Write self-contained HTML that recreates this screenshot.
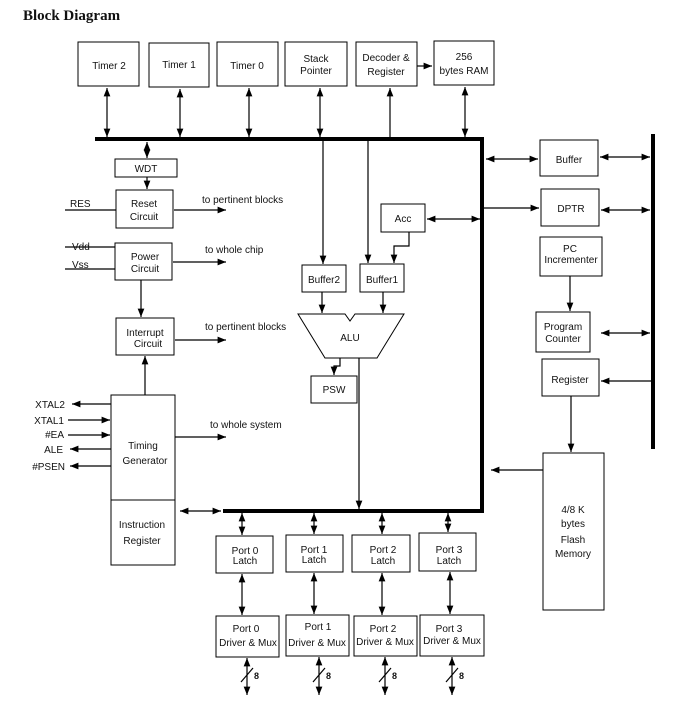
<!DOCTYPE html>
<html><head><meta charset="utf-8"><style>
body{margin:0;background:#fff}
svg{display:block}
text{font-family:"Liberation Sans",sans-serif;font-size:10px;fill:#111}
</style></head><body>
<svg width="673" height="704" viewBox="0 0 673 704" xmlns="http://www.w3.org/2000/svg">
<defs>
<marker id="a" viewBox="0 0 10 10" refX="10" refY="5" markerWidth="7" markerHeight="7" orient="auto-start-reverse"><path d="M0,1 L10,5 L0,9 z" fill="#000"/></marker>
</defs>
<text x="23" y="20" style="font-family:'Liberation Serif',serif;font-size:15px;font-weight:bold">Block Diagram</text>
<g fill="none" stroke="#000" stroke-width="1">
<rect x="78" y="42" width="61" height="44"/>
<rect x="149" y="43" width="60" height="44"/>
<rect x="217" y="42" width="61" height="44"/>
<rect x="285" y="42" width="62" height="44"/>
<rect x="356" y="42" width="61" height="44"/>
<rect x="434" y="41" width="60" height="44"/>
<rect x="115" y="159" width="62" height="18"/>
<rect x="116" y="190" width="57" height="38"/>
<rect x="381" y="204" width="44" height="28"/>
<rect x="115" y="243" width="57" height="37"/>
<rect x="302" y="265" width="44" height="27"/>
<rect x="360" y="264" width="44" height="28"/>
<rect x="116" y="318" width="58" height="37"/>
<path d="M298,314 L345,314 L350,321 L355,314 L404,314 L377,358 L325,358 Z"/>
<rect x="311" y="376" width="46" height="27"/>
<rect x="540" y="140" width="58" height="36"/>
<rect x="541" y="189" width="58" height="37"/>
<rect x="540" y="237" width="62" height="39"/>
<rect x="536" y="312" width="54" height="40"/>
<rect x="542" y="359" width="57" height="37"/>
<rect x="543" y="453" width="61" height="157"/>
<rect x="111" y="395" width="64" height="105"/>
<rect x="111" y="500" width="64" height="65"/>
<rect x="216" y="536" width="57" height="37"/>
<rect x="286" y="535" width="57" height="37"/>
<rect x="352" y="535" width="58" height="37"/>
<rect x="419" y="533" width="57" height="38"/>
<rect x="216" y="616" width="63" height="41"/>
<rect x="286" y="615" width="63" height="41"/>
<rect x="354" y="616" width="63" height="40"/>
<rect x="420" y="615" width="64" height="41"/>
</g>
<g fill="none" stroke="#000" stroke-width="4">
<path d="M95,139 L482,139 L482,511 L223,511"/>
<path d="M653,134 L653,449"/>
</g>
<g fill="none" stroke="#000" stroke-width="1.2">
<line x1="417" y1="66" x2="432" y2="66" marker-end="url(#a)"/>
<line x1="107" y1="88" x2="107" y2="137" marker-start="url(#a)" marker-end="url(#a)"/>
<line x1="180" y1="89" x2="180" y2="137" marker-start="url(#a)" marker-end="url(#a)"/>
<line x1="249" y1="88" x2="249" y2="137" marker-start="url(#a)" marker-end="url(#a)"/>
<line x1="320" y1="88" x2="320" y2="137" marker-start="url(#a)" marker-end="url(#a)"/>
<line x1="390" y1="137" x2="390" y2="88" marker-end="url(#a)"/>
<line x1="465" y1="87" x2="465" y2="137" marker-start="url(#a)" marker-end="url(#a)"/>
<line x1="147" y1="142" x2="147" y2="158" marker-start="url(#a)" marker-end="url(#a)"/>
<line x1="147" y1="177" x2="147" y2="189" marker-end="url(#a)"/>
<line x1="65" y1="210" x2="116" y2="210"/>
<line x1="174" y1="210" x2="226" y2="210" marker-end="url(#a)"/>
<line x1="427" y1="219" x2="480" y2="219" marker-start="url(#a)" marker-end="url(#a)"/>
<path d="M409,232 L409,246 L394,246 L394,263" marker-end="url(#a)"/>
<line x1="65" y1="247" x2="115" y2="247"/>
<line x1="65" y1="269" x2="115" y2="269"/>
<line x1="173" y1="262" x2="226" y2="262" marker-end="url(#a)"/>
<line x1="323" y1="141" x2="323" y2="264" marker-end="url(#a)"/>
<line x1="368" y1="141" x2="368" y2="263" marker-end="url(#a)"/>
<line x1="141" y1="280" x2="141" y2="317" marker-end="url(#a)"/>
<line x1="175" y1="340" x2="226" y2="340" marker-end="url(#a)"/>
<line x1="322" y1="292" x2="322" y2="313" marker-end="url(#a)"/>
<line x1="383" y1="292" x2="383" y2="313" marker-end="url(#a)"/>
<path d="M340,358 L340,366 L334,366 L334,375" marker-end="url(#a)"/>
<line x1="359" y1="358" x2="359" y2="509" marker-end="url(#a)"/>
<line x1="486" y1="159" x2="538" y2="159" marker-start="url(#a)" marker-end="url(#a)"/>
<line x1="600" y1="157" x2="650" y2="157" marker-start="url(#a)" marker-end="url(#a)"/>
<line x1="484" y1="208" x2="539" y2="208" marker-end="url(#a)"/>
<line x1="601" y1="210" x2="650" y2="210" marker-start="url(#a)" marker-end="url(#a)"/>
<line x1="570" y1="276" x2="570" y2="311" marker-end="url(#a)"/>
<line x1="601" y1="333" x2="650" y2="333" marker-start="url(#a)" marker-end="url(#a)"/>
<line x1="651" y1="381" x2="601" y2="381" marker-end="url(#a)"/>
<line x1="571" y1="396" x2="571" y2="452" marker-end="url(#a)"/>
<line x1="543" y1="470" x2="491" y2="470" marker-end="url(#a)"/>
<line x1="145" y1="395" x2="145" y2="356" marker-end="url(#a)"/>
<line x1="111" y1="404" x2="72" y2="404" marker-end="url(#a)"/>
<line x1="68" y1="420" x2="110" y2="420" marker-end="url(#a)"/>
<line x1="68" y1="435" x2="110" y2="435" marker-end="url(#a)"/>
<line x1="111" y1="449" x2="70" y2="449" marker-end="url(#a)"/>
<line x1="111" y1="466" x2="70" y2="466" marker-end="url(#a)"/>
<line x1="175" y1="437" x2="226" y2="437" marker-end="url(#a)"/>
<line x1="180" y1="511" x2="221" y2="511" marker-start="url(#a)" marker-end="url(#a)"/>
<line x1="242" y1="513" x2="242" y2="535" marker-start="url(#a)" marker-end="url(#a)"/>
<line x1="314" y1="513" x2="314" y2="534" marker-start="url(#a)" marker-end="url(#a)"/>
<line x1="382" y1="513" x2="382" y2="534" marker-start="url(#a)" marker-end="url(#a)"/>
<line x1="448" y1="513" x2="448" y2="532" marker-start="url(#a)" marker-end="url(#a)"/>
<line x1="242" y1="574" x2="242" y2="615" marker-start="url(#a)" marker-end="url(#a)"/>
<line x1="314" y1="573" x2="314" y2="614" marker-start="url(#a)" marker-end="url(#a)"/>
<line x1="382" y1="573" x2="382" y2="615" marker-start="url(#a)" marker-end="url(#a)"/>
<line x1="450" y1="572" x2="450" y2="614" marker-start="url(#a)" marker-end="url(#a)"/>
<line x1="247" y1="658" x2="247" y2="695" marker-start="url(#a)" marker-end="url(#a)"/>
<line x1="319" y1="657" x2="319" y2="695" marker-start="url(#a)" marker-end="url(#a)"/>
<line x1="385" y1="657" x2="385" y2="695" marker-start="url(#a)" marker-end="url(#a)"/>
<line x1="452" y1="657" x2="452" y2="695" marker-start="url(#a)" marker-end="url(#a)"/>
<line x1="241" y1="682" x2="253" y2="668"/>
<line x1="313" y1="682" x2="325" y2="668"/>
<line x1="379" y1="682" x2="391" y2="668"/>
<line x1="446" y1="682" x2="458" y2="668"/>
</g>
<g text-anchor="middle">
<text x="109" y="69">Timer 2</text>
<text x="179" y="68">Timer 1</text>
<text x="247" y="69">Timer 0</text>
<text x="316" y="62">Stack</text><text x="316" y="74">Pointer</text>
<text x="386" y="61">Decoder &amp;</text><text x="386" y="75">Register</text>
<text x="464" y="60">256</text><text x="464" y="74">bytes RAM</text>
<text x="146" y="172">WDT</text>
<text x="144" y="207">Reset</text><text x="144" y="220">Circuit</text>
<text x="403" y="222">Acc</text>
<text x="145" y="260">Power</text><text x="145" y="272">Circuit</text>
<text x="324" y="283">Buffer2</text>
<text x="382" y="283">Buffer1</text>
<text x="145" y="336">Interrupt</text><text x="148" y="347">Circuit</text>
<text x="350" y="341">ALU</text>
<text x="334" y="393">PSW</text>
<text x="569" y="163">Buffer</text>
<text x="571" y="212">DPTR</text>
<text x="570" y="252">PC</text><text x="571" y="263">Incrementer</text>
<text x="563" y="330">Program</text><text x="563" y="342">Counter</text>
<text x="570" y="383">Register</text>
<text x="573" y="513">4/8 K</text><text x="573" y="527">bytes</text><text x="573" y="543">Flash</text><text x="573" y="557">Memory</text>
<text x="143" y="449">Timing</text><text x="145" y="464">Generator</text>
<text x="142" y="528">Instruction</text><text x="142" y="544">Register</text>
<text x="245" y="554">Port 0</text><text x="245" y="564">Latch</text>
<text x="314" y="553">Port 1</text><text x="314" y="563">Latch</text>
<text x="383" y="553">Port 2</text><text x="383" y="564">Latch</text>
<text x="449" y="553">Port 3</text><text x="449" y="564">Latch</text>
<text x="246" y="632">Port 0</text><text x="248" y="646">Driver &amp; Mux</text>
<text x="318" y="630">Port 1</text><text x="317" y="646">Driver &amp; Mux</text>
<text x="383" y="632">Port 2</text><text x="385" y="645">Driver &amp; Mux</text>
<text x="449" y="632">Port 3</text><text x="452" y="644">Driver &amp; Mux</text>
</g>
<text x="70" y="207">RES</text>
<text x="72" y="250">Vdd</text>
<text x="72" y="268">Vss</text>
<text x="202" y="203">to pertinent blocks</text>
<text x="205" y="253">to whole chip</text>
<text x="205" y="330">to pertinent blocks</text>
<text x="210" y="428">to whole system</text>
<g text-anchor="end">
<text x="65" y="408">XTAL2</text>
<text x="64" y="424">XTAL1</text>
<text x="64" y="438">#EA</text>
<text x="63" y="453">ALE</text>
<text x="65" y="470">#PSEN</text>
</g>
<text x="254" y="679" style="font-weight:bold;font-size:9px">8</text>
<text x="326" y="679" style="font-weight:bold;font-size:9px">8</text>
<text x="392" y="679" style="font-weight:bold;font-size:9px">8</text>
<text x="459" y="679" style="font-weight:bold;font-size:9px">8</text>
</svg>
</body></html>
